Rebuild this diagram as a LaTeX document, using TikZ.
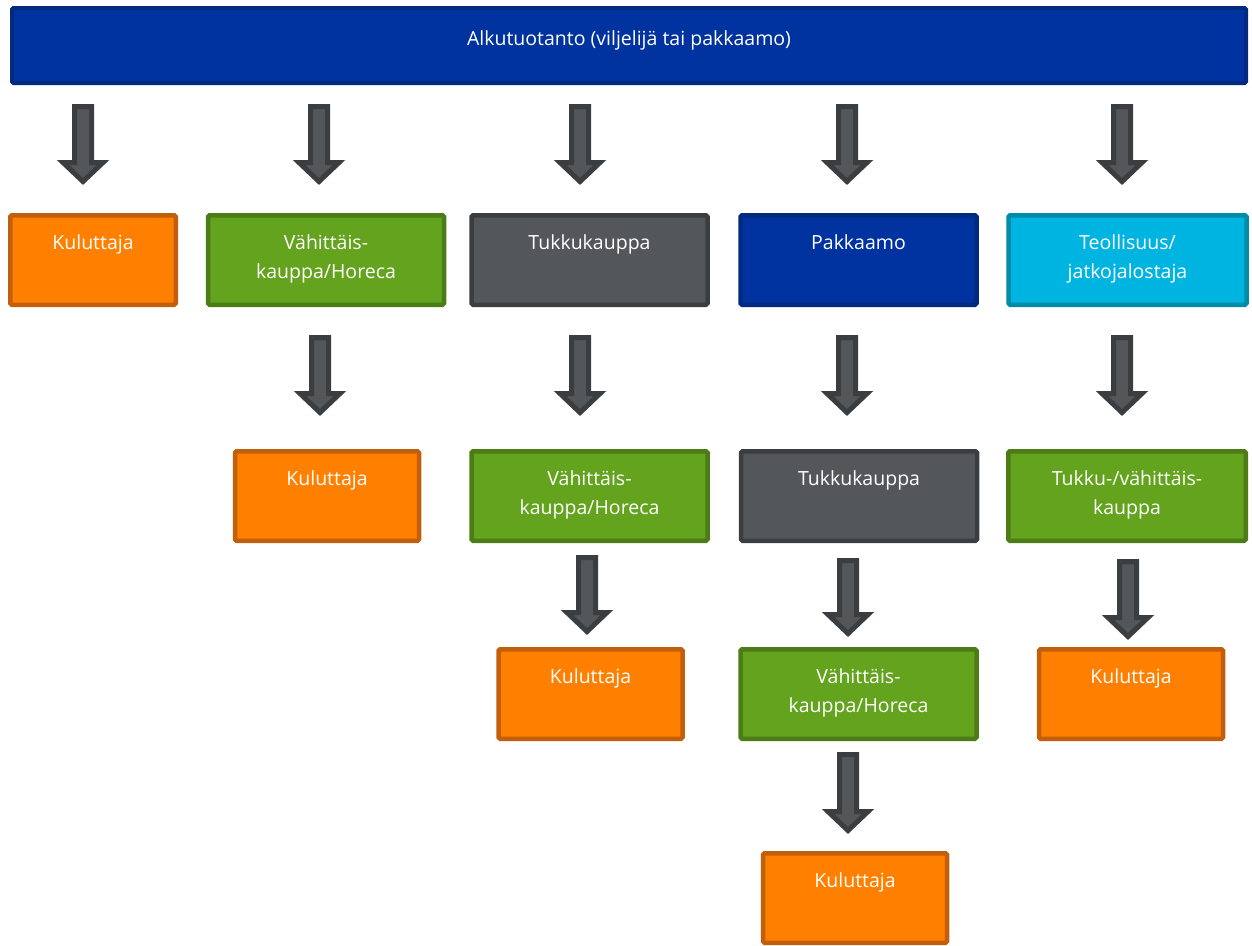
\documentclass[tikz,border=0pt]{standalone}
\usepackage{fontspec}
\setmainfont{Open Sans}
\usetikzlibrary{calc}

\definecolor{orfill}{HTML}{FF8000}
\definecolor{ordraw}{HTML}{C25F0C}
\definecolor{grfill}{HTML}{63A31E}
\definecolor{grdraw}{HTML}{4B7C16}
\definecolor{gyfill}{HTML}{54575A}
\definecolor{gydraw}{HTML}{3B3E41}
\definecolor{blfill}{HTML}{00339F}
\definecolor{bldraw}{HTML}{002A80}
\definecolor{cyfill}{HTML}{00B4E2}
\definecolor{cydraw}{HTML}{008CA8}

\tikzset{
  box/.style={draw, line width=4.5pt, rounded corners=1.5pt, align=center,
    text=white, inner xsep=4pt, inner ysep=0pt, anchor=north,
    text height=33.75pt, text depth=55.75pt,
    font=\fontsize{19.5}{29}\selectfont},
  twoline/.style={text height=62.75pt, text depth=26.75pt},
  kuluttaja/.style={box, fill=orfill, draw=ordraw, minimum width=184pt},
  vahittais/.style={box, twoline, fill=grfill, draw=grdraw, minimum width=236pt},
  tukku/.style={box, fill=gyfill, draw=gydraw, minimum width=236pt},
  pakkaamo/.style={box, fill=blfill, draw=bldraw, minimum width=236pt},
  teollisuus/.style={box, twoline, fill=cyfill, draw=cydraw, minimum width=238pt},
  blockarrow/.style={draw=gydraw, fill=gyfill, line width=5pt,
    to path={let \p1=(\tikztostart), \p2=(\tikztotarget) in
      (\x1-8.5pt,\y1-2.5pt) -- (\x1+8.5pt,\y1-2.5pt) -- (\x1+8.5pt,\y2+22.5pt)
      -- (\x1+20pt,\y2+22.5pt) -- (\x2,\y2+3.5pt) -- (\x1-20pt,\y2+22.5pt)
      -- (\x1-8.5pt,\y2+22.5pt) -- cycle}}
}

\begin{document}
\begin{tikzpicture}[x=1pt,y=-1pt]
\useasboundingbox (0,0) rectangle (1252,945);

% alkutuotanto
\node[box, fill=blfill, draw=bldraw, line width=4pt, minimum width=1234pt,
  text height=37.75pt, text depth=37.25pt] (alku) at (629,6) {Alkutuotanto (viljelijä tai pakkaamo)};

% first row
\node[kuluttaja, minimum width=165.5pt] (kul1) at (93,213) {Kuluttaja};
\node[vahittais] (vah1) at (326,213) {Vähittäis-\\kauppa/Horeca};
\node[tukku] (tuk1) at (589.5,213) {Tukkukauppa};
\node[pakkaamo] (pak1) at (858.5,213) {Pakkaamo};
\node[teollisuus] (teo1) at (1127.5,213) {Teollisuus/\\jatkojalostaja};

% second row
\node[kuluttaja] (kul2) at (327,449) {Kuluttaja};
\node[vahittais] (vah2) at (589.5,449) {Vähittäis-\\kauppa/Horeca};
\node[tukku] (tuk2) at (859,449) {Tukkukauppa};
\node[vahittais, minimum width=237.5pt] (tuv2) at (1127,449) {Tukku-/vähittäis-\\kauppa};

% third row
\node[kuluttaja] (kul3) at (590.5,647) {Kuluttaja};
\node[vahittais] (vah3) at (858.5,647) {Vähittäis-\\kauppa/Horeca};
\node[kuluttaja] (kul4) at (1131,647) {Kuluttaja};

% fourth row
\node[kuluttaja] (kul5) at (855,851) {Kuluttaja};

% arrows
\coordinate (a1t) at (83,104);   \coordinate (a1b) at (83,185);
\coordinate (a2t) at (319,104);  \coordinate (a2b) at (319,185);
\coordinate (a3t) at (580,104);  \coordinate (a3b) at (580,185);
\coordinate (a4t) at (847,104);  \coordinate (a4b) at (847,185);
\coordinate (a5t) at (1122,104); \coordinate (a5b) at (1122,185);
\coordinate (b1t) at (320,335);  \coordinate (b1b) at (320,416);
\coordinate (b2t) at (580,335);  \coordinate (b2b) at (580,416);
\coordinate (b3t) at (847,335);  \coordinate (b3b) at (847,416);
\coordinate (b4t) at (1122,335); \coordinate (b4b) at (1122,416);
\coordinate (c1t) at (587,555);  \coordinate (c1b) at (587,635);
\coordinate (c2t) at (848,558);  \coordinate (c2b) at (848,637);
\coordinate (c3t) at (1128,559); \coordinate (c3b) at (1128,640);
\coordinate (d1t) at (848,752);  \coordinate (d1b) at (848,834);

\foreach \a in {a1,a2,a3,a4,a5,b1,b2,b3,b4,c1,c2,c3,d1}
  \draw[blockarrow] (\a t) to (\a b);
\end{tikzpicture}
\end{document}
